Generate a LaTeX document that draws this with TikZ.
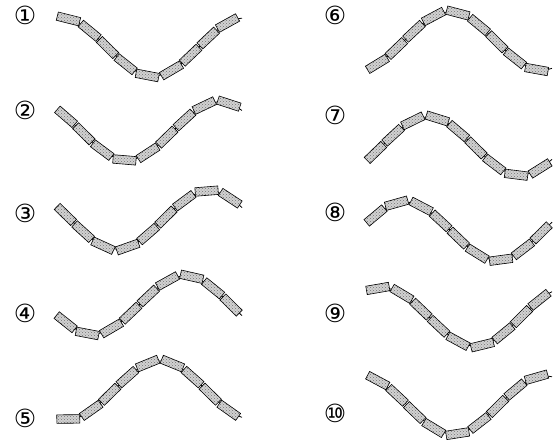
\documentclass[tikz,border=0pt]{standalone}
\usepackage{fontspec}
\newfontfamily\circfont{DejaVu Sans}
\usetikzlibrary{patterns}

\begin{document}
\begin{tikzpicture}[x=1pt, y=1pt,
    wave/.style={line width=0.8pt},
    carbox/.style={rectangle, draw, line width=0.6pt, inner sep=0pt,
      preaction={fill=gray!35}, pattern=crosshatch dots, pattern color=black!55,
      minimum width=23pt, minimum height=8.5pt},
    numlabel/.style={font=\circfont\fontsize{25}{25}\selectfont, inner sep=0pt}]
  \useasboundingbox (0,0) rectangle (556,442);

  % start x / centre y / x of the trough / label position / label
  \foreach \xs/\cy/\xm/\lx/\ly/\lab [count=\i] in {
      57/395/153/25/427/①, 57/311/127/25/332/②, 57/222/117/25/229/③,
      57/137/93/25/129/④, 57/52/68/25/24/⑤,
      367/401/358/335/427/⑥, 367/296/520/335/327/⑦, 367/211/497/335/230/⑧,
      367/125/475/335/129/⑨, 367/37/453/335/29/⑩}
  {
    \pgfmathsetmacro\xe{\xs+185}
    \draw[wave] plot[domain=\xs:\xe, samples=60, smooth]
      (\x, {\cy - 29*cos(1.9565*(\x-\xm))});
    % boxes spaced along the curve
    \xdef\bx{\xs}
    \foreach \j in {1,...,9} {
      \pgfmathsetmacro\h{ifthenelse(\j==1, 11.5, 24.8)}
      \pgfmathsetmacro\sa{0.99*sin(1.9565*(\bx-\xm))}
      \pgfmathsetmacro\xt{\bx + 0.5*\h/sqrt(1+\sa*\sa)}
      \pgfmathsetmacro\sb{0.99*sin(1.9565*(\xt-\xm))}
      \pgfmathsetmacro\xc{\bx + \h/sqrt(1+\sb*\sb)}
      \pgfmathsetmacro\yc{\cy - 29*cos(1.9565*(\xc-\xm))}
      \pgfmathsetmacro\ang{atan(0.99*sin(1.9565*(\xc-\xm)))}
      \node[carbox, rotate=\ang] (box\i-\j) at (\xc,\yc) {};
      \xdef\bx{\xc}
    }
    \node[numlabel] (lab\i) at (\lx,\ly) {\lab};
  }
\end{tikzpicture}
\end{document}
